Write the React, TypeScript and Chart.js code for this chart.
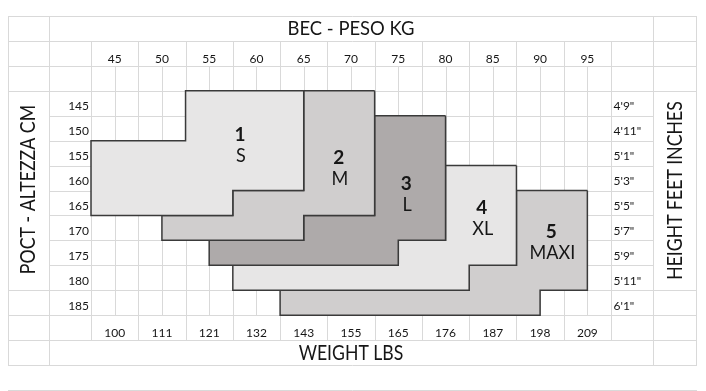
import React, { useEffect, useRef } from "react";
import { Chart, registerables } from "chart.js";

Chart.register(...registerables);

// ---- data ----
const kgTicks = [45, 50, 55, 60, 65, 70, 75, 80, 85, 90, 95];
const lbsTicks = ["100", "111", "121", "132", "143", "155", "165", "176", "187", "198", "209"];
const cmTicks = [145, 150, 155, 160, 165, 170, 175, 180, 185];
const feetTicks = ["4'9\"", "4'11\"", "5'1\"", "5'3\"", "5'5\"", "5'7\"", "5'9\"", "5'11\"", "6'1\""];

const sizeNumbers = ["1", "2", "3", "4", "5"];
const sizeNames = ["S", "M", "L", "XL", "MAXI"];

// per height row (cm): weight range [from kg, to kg]
const sizeS = [[145, 52.5, 65], [150, 52.5, 65], [155, 42.5, 65], [160, 42.5, 65], [165, 42.5, 57.5]];
const sizeM = [[145, 65, 72.5], [150, 65, 72.5], [155, 65, 72.5], [160, 65, 72.5], [165, 57.5, 72.5], [170, 50, 65]];
const sizeL = [[150, 72.5, 80], [155, 72.5, 80], [160, 72.5, 80], [165, 72.5, 80], [170, 65, 80], [175, 55, 75]];
const sizeXL = [[160, 80, 87.5], [165, 80, 87.5], [170, 80, 87.5], [175, 75, 87.5], [180, 57.5, 82.5]];
const sizeMaxi = [[165, 87.5, 95], [170, 87.5, 95], [175, 87.5, 95], [180, 82.5, 95], [185, 62.5, 90]];

const titleTop = "BEC - PESO KG";
const titleBottom = "WEIGHT LBS";
const titleLeft = "POCT - ALTEZZA CM";
const titleRight = "HEIGHT FEET INCHES";

// ---- layout / style (not data) ----
const sizeFills = ["#e7e6e6", "#d0cece", "#aeaaaa", "#e7e6e6", "#d0cece"];
// label anchor: [kg centre, cm of number baseline]
const sizeLabelAnchors = [[58.26, 152.57], [68.71, 157.18], [75.84, 162.4], [83.82, 167.21], [91.19, 172.09]];

const X_MIN = 33.72;
const X_COL2 = 38.06;
const X_DATA0 = 42.5;
const X_DATA1 = 97.5;
const X_COLR = 101.94;
const X_MAX = 106.49;
const Y_MIN = 127.5;
const Y_MAX = 197.5;

const FONT = "Lato, 'Open Sans', sans-serif";
const GRID = "#d9d9d9";
const INK = "#161616";

function outline(rows: number[][]) {
  const pts: { x: number; y: number }[] = [];
  rows.forEach((r) => {
    pts.push({ x: r[2], y: r[0] - 2.5 });
    pts.push({ x: r[2], y: r[0] + 2.5 });
  });
  for (let i = rows.length - 1; i >= 0; i--) {
    const r = rows[i];
    pts.push({ x: r[1], y: r[0] + 2.5 });
    pts.push({ x: r[1], y: r[0] - 2.5 });
  }
  pts.push({ ...pts[0] });
  return pts;
}

function narrowText(ctx: any, text: string, x: number, y: number, sx: number, rot: number) {
  ctx.save();
  ctx.translate(x, y);
  if (rot) ctx.rotate(rot);
  ctx.scale(sx, 1);
  ctx.fillText(text, 0, 0);
  ctx.restore();
}

const tablePlugin = {
  id: "sizeTable",
  beforeDatasetsDraw(chart: any) {
    const { ctx } = chart;
    const xs = chart.scales.x;
    const ys = chart.scales.y;
    const X = (v: number) => Math.round(xs.getPixelForValue(v)) + 0.5;
    const Y = (v: number) => Math.round(ys.getPixelForValue(v)) + 0.5;
    ctx.save();
    ctx.strokeStyle = GRID;
    ctx.lineWidth = 1;
    const h = (y: number, x0: number, x1: number) => {
      ctx.beginPath();
      ctx.moveTo(X(x0) - 0.5, Y(y));
      ctx.lineTo(X(x1) + 0.5, Y(y));
      ctx.stroke();
    };
    const v = (x: number, y0: number, y1: number) => {
      ctx.beginPath();
      ctx.moveTo(X(x), Y(y0));
      ctx.lineTo(X(x), Y(y1));
      ctx.stroke();
    };
    [127.5, 132.5, 137.5, 142.5, 182.5, 187.5, 192.5, 197.5, 202.5].forEach((y) => h(y, X_MIN, X_MAX));
    for (let y = 147.5; y <= 177.5; y += 5) h(y, X_COL2, X_COLR);
    [X_MIN, X_COL2, X_COLR, X_MAX].forEach((x) => v(x, 127.5, 197.5));
    for (let x = X_DATA0; x <= X_DATA1 + 0.01; x += 5) v(x, 132.5, 192.5);
    for (let x = X_DATA0 + 2.5; x < X_DATA1; x += 5) v(x, 137.5, 187.5);
    ctx.restore();
  },
  afterDatasetsDraw(chart: any) {
    const { ctx } = chart;
    const xs = chart.scales.x;
    const ys = chart.scales.y;
    const px = (v: number) => xs.getPixelForValue(v);
    const py = (v: number) => ys.getPixelForValue(v);
    ctx.save();
    ctx.fillStyle = INK;
    ctx.textBaseline = "alphabetic";

    // titles
    ctx.textAlign = "center";
    ctx.font = `19px ${FONT}`;
    narrowText(ctx, titleTop, (px(X_COL2) + px(X_COLR)) / 2, py(131.31), 0.97, 0);
    ctx.font = `20.5px ${FONT}`;
    narrowText(ctx, titleBottom, (px(X_COL2) + px(X_COLR)) / 2, py(196.5), 0.86, 0);

    // kg & lbs ticks
    ctx.font = `12px ${FONT}`;
    kgTicks.forEach((k, i) => {
      ctx.fillText(String(k), px(k), py(136.99));
      ctx.fillText(lbsTicks[i], px(k), py(191.94));
    });
    cmTicks.forEach((c, i) => {
      ctx.textAlign = "right";
      ctx.fillText(String(c), px(X_DATA0) - 2, py(c + 1.45));
      ctx.textAlign = "left";
      ctx.fillText(feetTicks[i], px(X_DATA1) + 2.5, py(c + 1.45));
    });

    // rotated titles
    ctx.textAlign = "center";
    ctx.font = `21px ${FONT}`;
    narrowText(ctx, titleLeft, px(36.58), py(162.3), 0.845, -Math.PI / 2);
    narrowText(ctx, titleRight, px(104.98), py(162.5), 0.84, -Math.PI / 2);

    // size labels
    sizeLabelAnchors.forEach((a, i) => {
      const x = px(a[0]);
      const y = py(a[1]);
      ctx.font = `bold 19px ${FONT}`;
      ctx.fillText(sizeNumbers[i], x, y);
      ctx.font = `19px ${FONT}`;
      narrowText(ctx, sizeNames[i], x + 1, y + 21, 0.95, 0);
    });
    ctx.restore();
  },
};

export default function App() {
  const ref = useRef<HTMLCanvasElement | null>(null);
  useEffect(() => {
    if (!ref.current) return;
    const shapes = [sizeS, sizeM, sizeL, sizeXL, sizeMaxi];
    const chart = new Chart(ref.current, {
      type: "scatter",
      data: {
        datasets: shapes.map((rows, i) => ({
          label: sizeNames[i],
          data: outline(rows),
          showLine: true,
          fill: "shape",
          backgroundColor: sizeFills[i],
          borderColor: "#3a3a3a",
          borderWidth: 1.5,
          pointRadius: 0,
          tension: 0,
        })),
      } as any,
      options: {
        animation: false,
        responsive: true,
        maintainAspectRatio: false,
        layout: { padding: { left: 0, top: 8, right: 2, bottom: 26 } },
        plugins: { legend: { display: false }, tooltip: { enabled: false } },
        scales: {
          x: { type: "linear", min: X_MIN, max: X_MAX, display: false },
          y: { type: "linear", min: Y_MIN, max: Y_MAX, reverse: true, display: false },
        },
      } as any,
      plugins: [tablePlugin],
    });
    return () => chart.destroy();
  }, []);
  return (
    <div style={{ width: 690, height: 383, position: "relative" }}>
      <canvas ref={ref} />
    </div>
  );
}
